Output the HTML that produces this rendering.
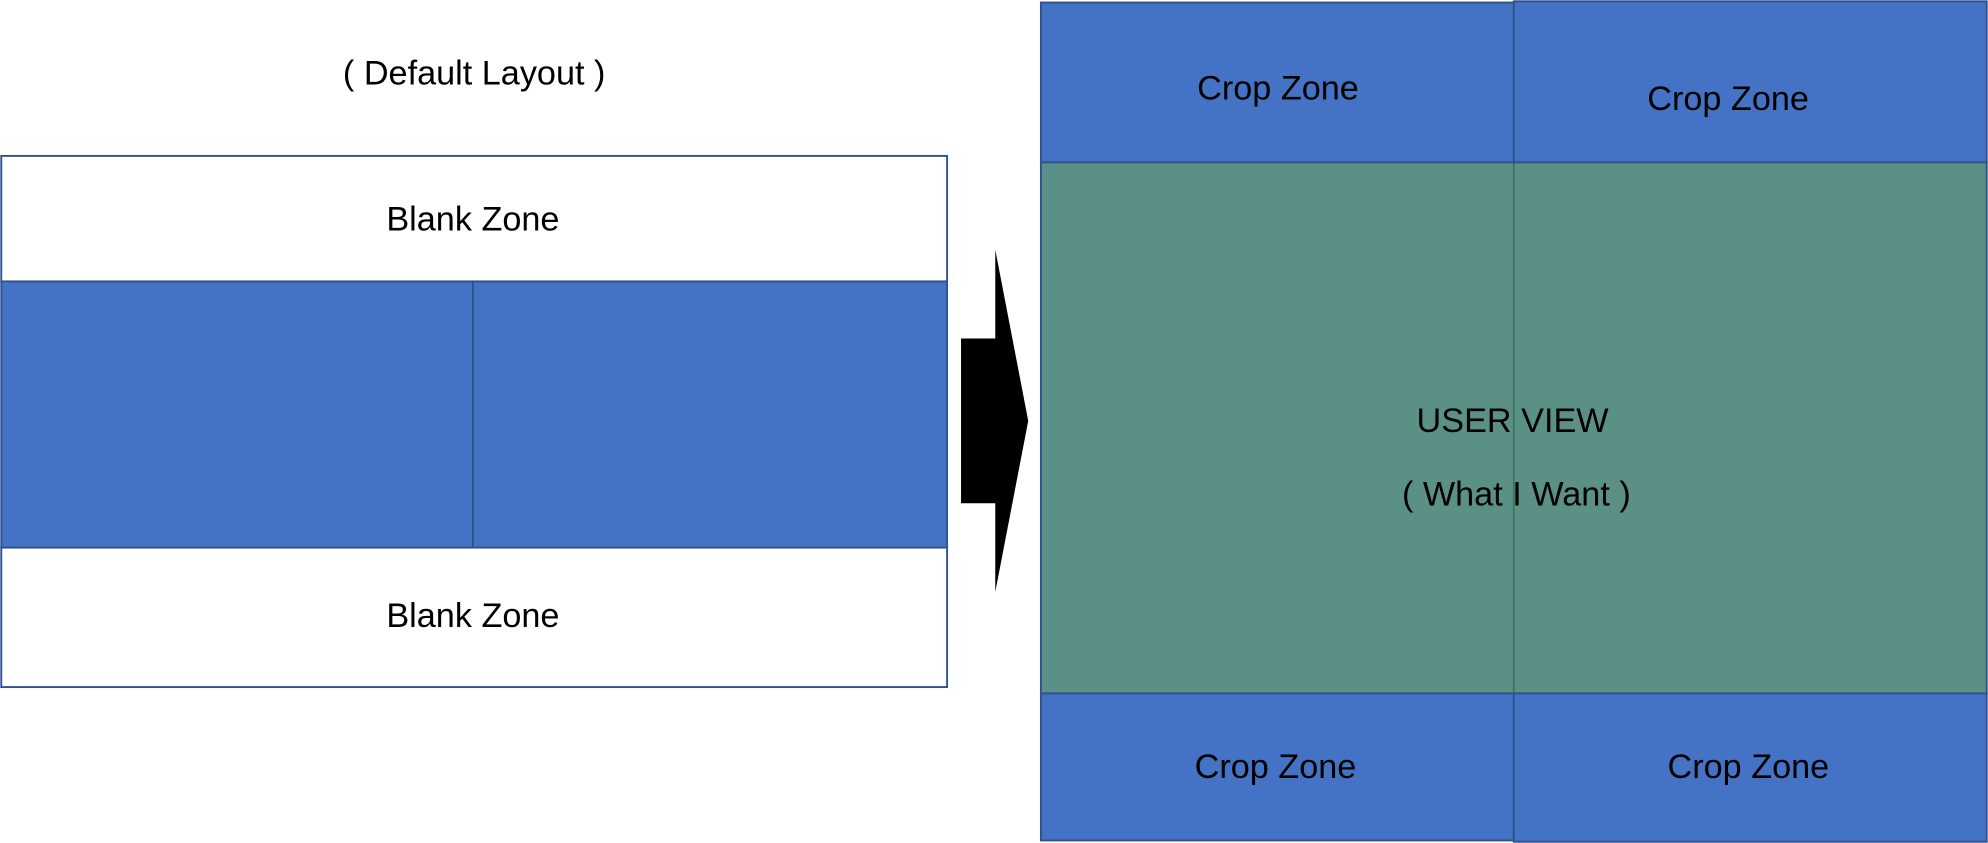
<!DOCTYPE html>
<html><head><meta charset="utf-8"><style>
html,body{margin:0;padding:0;background:#fff;width:1988px;height:843px;overflow:hidden}
svg{display:block}
text{font-family:"Liberation Sans",sans-serif;font-size:27px;fill:#000;text-anchor:middle;dominant-baseline:central}
</style></head><body>
<svg width="1988" height="843" viewBox="0 0 1568 665" preserveAspectRatio="none">
<text x="374" y="58">( Default Layout )</text>
<rect x="1" y="123" width="746" height="99" fill="#fff" stroke="#2F528F" stroke-width="1.5"/>
<rect x="1" y="222" width="372" height="210" fill="#4472C4" stroke="#2F528F" stroke-width="1.5"/>
<rect x="373" y="222" width="374" height="210" fill="#4472C4" stroke="#2F528F" stroke-width="1.5"/>
<rect x="1" y="432" width="746" height="110" fill="#fff" stroke="#2F528F" stroke-width="1.5"/>
<text x="373" y="173">Blank Zone</text>
<text x="373" y="486">Blank Zone</text>
<polygon points="758,267 785,267 785,197 811,332 785,467 785,397 758,397" fill="#000"/>
<rect x="821" y="128" width="746" height="419" fill="#5B9087" stroke="#2F528F" stroke-width="1.5"/>
<line x1="1194" y1="128" x2="1194" y2="547" stroke="#3F7560" stroke-width="1.5"/>
<rect x="821" y="2" width="373" height="126" fill="#4472C4" stroke="#2F528F" stroke-width="1.5"/>
<rect x="1194" y="1" width="373" height="127" fill="#4472C4" stroke="#2F528F" stroke-width="1.5"/>
<rect x="821" y="547" width="373" height="116" fill="#4472C4" stroke="#2F528F" stroke-width="1.5"/>
<rect x="1194" y="547" width="373" height="117" fill="#4472C4" stroke="#2F528F" stroke-width="1.5"/>
<text x="1008" y="70">Crop Zone</text>
<text x="1363" y="78">Crop Zone</text>
<text x="1006" y="605">Crop Zone</text>
<text x="1379" y="605">Crop Zone</text>
<text x="1193" y="332">USER VIEW</text>
<text x="1196" y="390">( What I Want )</text>
</svg>
</body></html>
